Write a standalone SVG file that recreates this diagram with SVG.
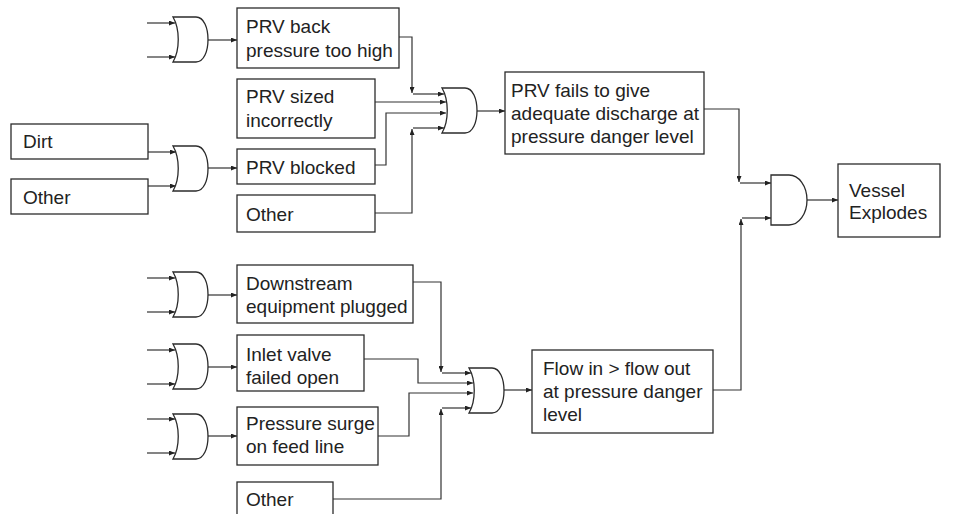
<svg xmlns="http://www.w3.org/2000/svg" width="959" height="514" viewBox="0 0 959 514">
<style>
.box{fill:#fff;stroke:#2b2b2b;stroke-width:1.3}
.gate{fill:#fff;stroke:#2b2b2b;stroke-width:1.3}
.t{font-family:"Liberation Sans",Arial,sans-serif;font-size:19px;fill:#222}
.c{fill:none;stroke:#333;stroke-width:1.2}
.a{marker-end:url(#ah)}
</style>
<defs>
<marker id="ah" markerWidth="6" markerHeight="5" refX="6" refY="2.5" orient="auto" markerUnits="userSpaceOnUse">
<path d="M0,0 L6,2.5 L0,5 Z" fill="#222"/>
</marker>
<path id="or" d="M0,0 H23 C31,0 35,11 35,22.5 C35,34 31,45 23,45 H0 C7,33 7,12 0,0 Z"/>
</defs>
<rect width="959" height="514" fill="#fff"/>

<g id="connectors">
<!-- gate A -->
<path class="c a" d="M147,23 H175"/>
<path class="c a" d="M147,57 H175"/>
<path class="c a" d="M208,40 H237"/>
<!-- gate G -->
<path class="c a" d="M148,152 H176"/>
<path class="c a" d="M148,186 H176"/>
<path class="c a" d="M208,168 H237"/>
<!-- into gate B -->
<path class="c a" d="M399,37 H412 V93"/>
<path class="c a" d="M413,94 H444"/>
<path class="c a" d="M375,102 H446"/>
<path class="c a" d="M375,165 H386 V113 H446"/>
<path class="c a" d="M375,213 H412 V129"/>
<path class="c a" d="M413,128 H444"/>
<path class="c a" d="M477,111 H505"/>
<!-- into AND -->
<path class="c a" d="M704,109 H739 V182"/>
<path class="c a" d="M740,183 H771"/>
<path class="c a" d="M713,390 H741 V219"/>
<path class="c a" d="M742,218 H771"/>
<path class="c a" d="M807,200 H838"/>
<!-- gate E -->
<path class="c a" d="M147,278 H175"/>
<path class="c a" d="M147,312 H175"/>
<path class="c a" d="M208,295 H237"/>
<!-- gate F -->
<path class="c a" d="M147,350 H175"/>
<path class="c a" d="M147,384 H175"/>
<path class="c a" d="M208,367 H237"/>
<!-- gate D -->
<path class="c a" d="M147,419 H175"/>
<path class="c a" d="M147,453 H175"/>
<path class="c a" d="M208,436 H237"/>
<!-- into gate C -->
<path class="c a" d="M413,282 H441 V372"/>
<path class="c a" d="M442,373 H471"/>
<path class="c a" d="M364,359 H418 V383 H473"/>
<path class="c a" d="M378,436 H409 V393 H473"/>
<path class="c a" d="M333,499 H441 V409"/>
<path class="c a" d="M442,408 H471"/>
<path class="c a" d="M504,390 H532"/>
</g>

<g id="gateA"><use href="#or" class="gate" x="173" y="17"/></g>
<g id="gateG"><use href="#or" class="gate" x="173" y="146"/></g>
<g id="gateB"><use href="#or" class="gate" x="442" y="88"/></g>
<g id="gateE"><use href="#or" class="gate" x="173" y="272"/></g>
<g id="gateF"><use href="#or" class="gate" x="173" y="344"/></g>
<g id="gateD"><use href="#or" class="gate" x="173" y="414"/></g>
<g id="gateC"><use href="#or" class="gate" x="469" y="368"/></g>
<g id="gateAND"><path class="gate" d="M771,175 H789 A18,25 0 0 1 789,225 H771 Z"/></g>

<g id="prvBack"><rect class="box" x="237" y="8" width="162" height="60"/>
<text class="t" x="246" y="33">PRV back</text><text class="t" x="246" y="57">pressure too high</text></g>
<g id="prvSized"><rect class="box" x="237" y="79" width="138" height="59"/>
<text class="t" x="246" y="103">PRV sized</text><text class="t" x="246" y="127">incorrectly</text></g>
<g id="prvBlocked"><rect class="box" x="237" y="149" width="138" height="35"/>
<text class="t" x="246" y="174">PRV blocked</text></g>
<g id="otherTop"><rect class="box" x="237" y="195" width="138" height="37"/>
<text class="t" x="246" y="221">Other</text></g>
<g id="dirt"><rect class="box" x="11" y="124" width="137" height="35"/>
<text class="t" x="23" y="148">Dirt</text></g>
<g id="otherLeft"><rect class="box" x="11" y="179" width="137" height="35"/>
<text class="t" x="23" y="204">Other</text></g>
<g id="prvFails"><rect class="box" x="505" y="72" width="199" height="82"/>
<text class="t" x="511" y="97">PRV fails to give</text><text class="t" x="511" y="120">adequate discharge at</text><text class="t" x="511" y="143">pressure danger level</text></g>
<g id="vessel"><rect class="box" x="838" y="164" width="102" height="73"/>
<text class="t" x="849" y="197">Vessel</text><text class="t" x="849" y="219">Explodes</text></g>
<g id="downstream"><rect class="box" x="237" y="265" width="176" height="58"/>
<text class="t" x="246" y="290">Downstream</text><text class="t" x="246" y="313">equipment plugged</text></g>
<g id="inlet"><rect class="box" x="237" y="335" width="127" height="56"/>
<text class="t" x="246" y="361">Inlet valve</text><text class="t" x="246" y="384">failed open</text></g>
<g id="surge"><rect class="box" x="237" y="407" width="141" height="58"/>
<text class="t" x="246" y="430">Pressure surge</text><text class="t" x="246" y="453">on feed line</text></g>
<g id="otherBottom"><rect class="box" x="237" y="482" width="96" height="40"/>
<text class="t" x="246" y="506">Other</text></g>
<g id="flow"><rect class="box" x="532" y="350" width="181" height="83"/>
<text class="t" x="543" y="375">Flow in &gt; flow out</text><text class="t" x="543" y="398">at pressure danger</text><text class="t" x="543" y="421">level</text></g>
</svg>
